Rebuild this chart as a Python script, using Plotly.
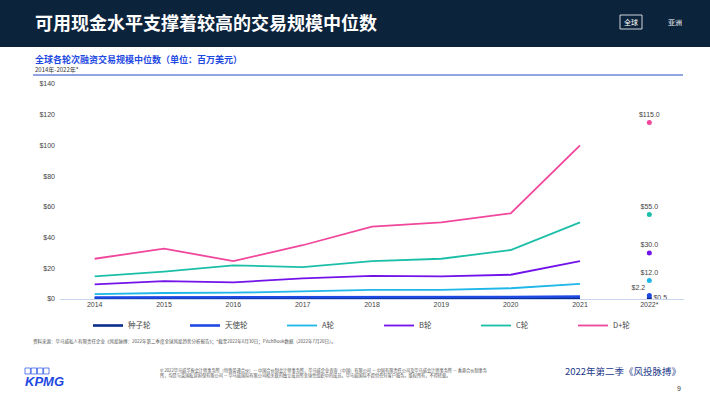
import plotly.graph_objects as go

# ---- data ----
years = ["2014", "2015", "2016", "2017", "2018", "2019", "2020", "2021"]
last_year = "2022*"
series_names = ["种子轮", "天使轮", "A轮", "B轮", "C轮", "D+轮"]
seed = [0.5, 0.5, 0.5, 0.5, 0.6, 0.6, 0.6, 0.7]
angel = [1.0, 1.0, 1.1, 1.1, 1.2, 1.2, 1.3, 1.6]
round_a = [3.2, 3.9, 4.1, 4.8, 5.9, 5.9, 7.0, 9.8]
round_b = [9.5, 11.7, 10.8, 13.4, 15.0, 14.7, 15.8, 24.7]
round_c = [14.7, 17.8, 21.9, 20.8, 24.7, 26.2, 31.9, 49.9]
round_d = [26.2, 32.8, 24.7, 35.0, 47.1, 49.9, 55.8, 100.0]
last_values = [0.5, 2.2, 12.0, 30.0, 55.0, 115.0]
y_ticks = [0, 20, 40, 60, 80, 100, 120, 140]
y_tick_labels = ["$" + str(v) for v in y_ticks]

colors = ["#0A2D8C", "#1E49E2", "#1FB6E8", "#7213EA", "#1BBFA8", "#F0479C"]
widths = [2.6, 2.6, 1.8, 1.8, 1.8, 1.8]
label_pos = ["middle right", "top left", "top center", "top center", "top center", "top center"]

W, H = 710, 399
L, R, T, B = 60, 26, 84, 100
PW, PH = W - L - R, H - T - B


def px(x):
    return (x - L) / PW


def py(y):
    return (H - B - y) / PH


CJK = "Noto Sans CJK SC, Liberation Sans, sans-serif"

fig = go.Figure()
all_series = [seed, angel, round_a, round_b, round_c, round_d]
for name, vals, c, w in zip(series_names, all_series, colors, widths):
    fig.add_trace(go.Scatter(x=years, y=vals, mode="lines", name=name,
                             line=dict(color=c, width=w), hoverinfo="skip"))
for name, v, c, tp in zip(series_names, last_values, colors, label_pos):
    fig.add_trace(go.Scatter(x=[last_year], y=[v], mode="markers+text", showlegend=False,
                             marker=dict(color=c, size=5),
                             text=["$" + f"{v:.1f}"], textposition=tp,
                             textfont=dict(size=7, color="#444", family="Liberation Sans"),
                             name=name))

shapes = [
    dict(type="rect", xref="paper", yref="paper", x0=px(0), x1=px(W), y0=py(47), y1=py(0),
         fillcolor="#0C233C", line=dict(width=0), layer="below"),
    dict(type="rect", xref="paper", yref="paper", x0=px(620), x1=px(642), y0=py(29), y1=py(15),
         fillcolor="rgba(0,0,0,0)", line=dict(color="white", width=0.8)),
    dict(type="line", xref="paper", yref="paper", x0=px(33), x1=px(683), y0=py(75), y1=py(75),
         line=dict(color="#6F86DA", width=1.5)),
]
for i in range(4):
    x0 = 25 + i * 6.2
    shapes.append(dict(type="rect", xref="paper", yref="paper", x0=px(x0), x1=px(x0 + 5.4),
                       y0=py(374), y1=py(368), fillcolor="rgba(0,0,0,0)",
                       line=dict(color="#1E49E2", width=0.7)))

annotations = [
    dict(text="<b>可用现金水平支撑着较高的交易规模中位数</b>", x=px(33), y=py(22),
         font=dict(size=18, color="white", family=CJK)),
    dict(text="全球", x=px(631), y=py(22), xanchor="center",
         font=dict(size=7, color="white", family=CJK)),
    dict(text="亚洲", x=px(666), y=py(22),
         font=dict(size=7, color="white", family=CJK)),
    dict(text="<b>全球各轮次融资交易规模中位数（单位：百万美元）</b>", x=px(33), y=py(60),
         font=dict(size=9, color="#1E49E2", family=CJK)),
    dict(text="2014年-2022年*", x=px(33), y=py(69.5),
         font=dict(size=6, color="#333", family=CJK)),
    dict(text="资料来源：毕马威私人有限责任企业《风投脉搏：2022年第二季度全球风投趋势分析报告》；*截至2022年6月30日；PitchBook数据（2022年7月20日）。",
         x=px(31), y=py(341), font=dict(size=4.5, color="#555", family=CJK)),
    dict(text="<b><i>KPMG</i></b>", x=px(23), y=py(381),
         font=dict(size=13, color="#1E49E2", family="Liberation Sans")),
    dict(text="© 2022毕马威华振会计师事务所（特殊普通合伙）— 中国合伙制会计师事务所，毕马威企业咨询（中国）有限公司 — 中国有限责任公司及毕马威会计师事务所 — 香港合伙制事务<br>所，均是与英国私营担保有限公司 — 毕马威国际有限公司相关联的独立成员所全球性组织中的成员。毕马威国际不提供任何客户服务。版权所有，不得转载。",
         x=px(158), y=py(373), align="left",
         font=dict(size=4.2, color="#555", family=CJK)),
    dict(text="2022年第二季《风投脉搏》", x=px(683), y=py(371), xanchor="right",
         font=dict(size=9.5, color="#1E3A8A", family=CJK)),
    dict(text="9", x=px(683), y=py(388), xanchor="right",
         font=dict(size=7, color="#333", family="Liberation Sans")),
]
for a in annotations:
    a.update(xref="paper", yref="paper", showarrow=False)
    a.setdefault("xanchor", "left")
    a.setdefault("yanchor", "middle")

fig.update_layout(
    width=W, height=H,
    margin=dict(l=L, r=R, t=T, b=B, autoexpand=False),
    paper_bgcolor="white", plot_bgcolor="white",
    font=dict(family=CJK, size=7, color="#444"),
    shapes=shapes, annotations=annotations,
    showlegend=True,
    legend=dict(orientation="h", x=px(88), xanchor="left", y=py(311), yanchor="top",
                entrywidth=52, entrywidthmode="pixels", itemwidth=30,
                font=dict(size=7.5, color="#444", family=CJK), traceorder="normal",
                bgcolor="rgba(0,0,0,0)"),
    xaxis=dict(type="category", categoryorder="array", categoryarray=years + [last_year],
               range=[-0.5, 8.5], showgrid=False, showline=False, ticks="", automargin=False,
               tickfont=dict(size=7, color="#444", family="Liberation Sans")),
    yaxis=dict(range=[0, 140], tickvals=y_ticks, ticktext=y_tick_labels, showgrid=False,
               zeroline=True, zerolinecolor="#C9D5EE", zerolinewidth=1, automargin=False,
               showline=False, ticks="", ticklabelstandoff=4,
               tickfont=dict(size=7, color="#444", family="Liberation Sans")),
)

fig.write_html("out.html", config={"displayModeBar": False},
               post_script="document.body.style.margin='0';document.body.style.overflow='hidden';")
